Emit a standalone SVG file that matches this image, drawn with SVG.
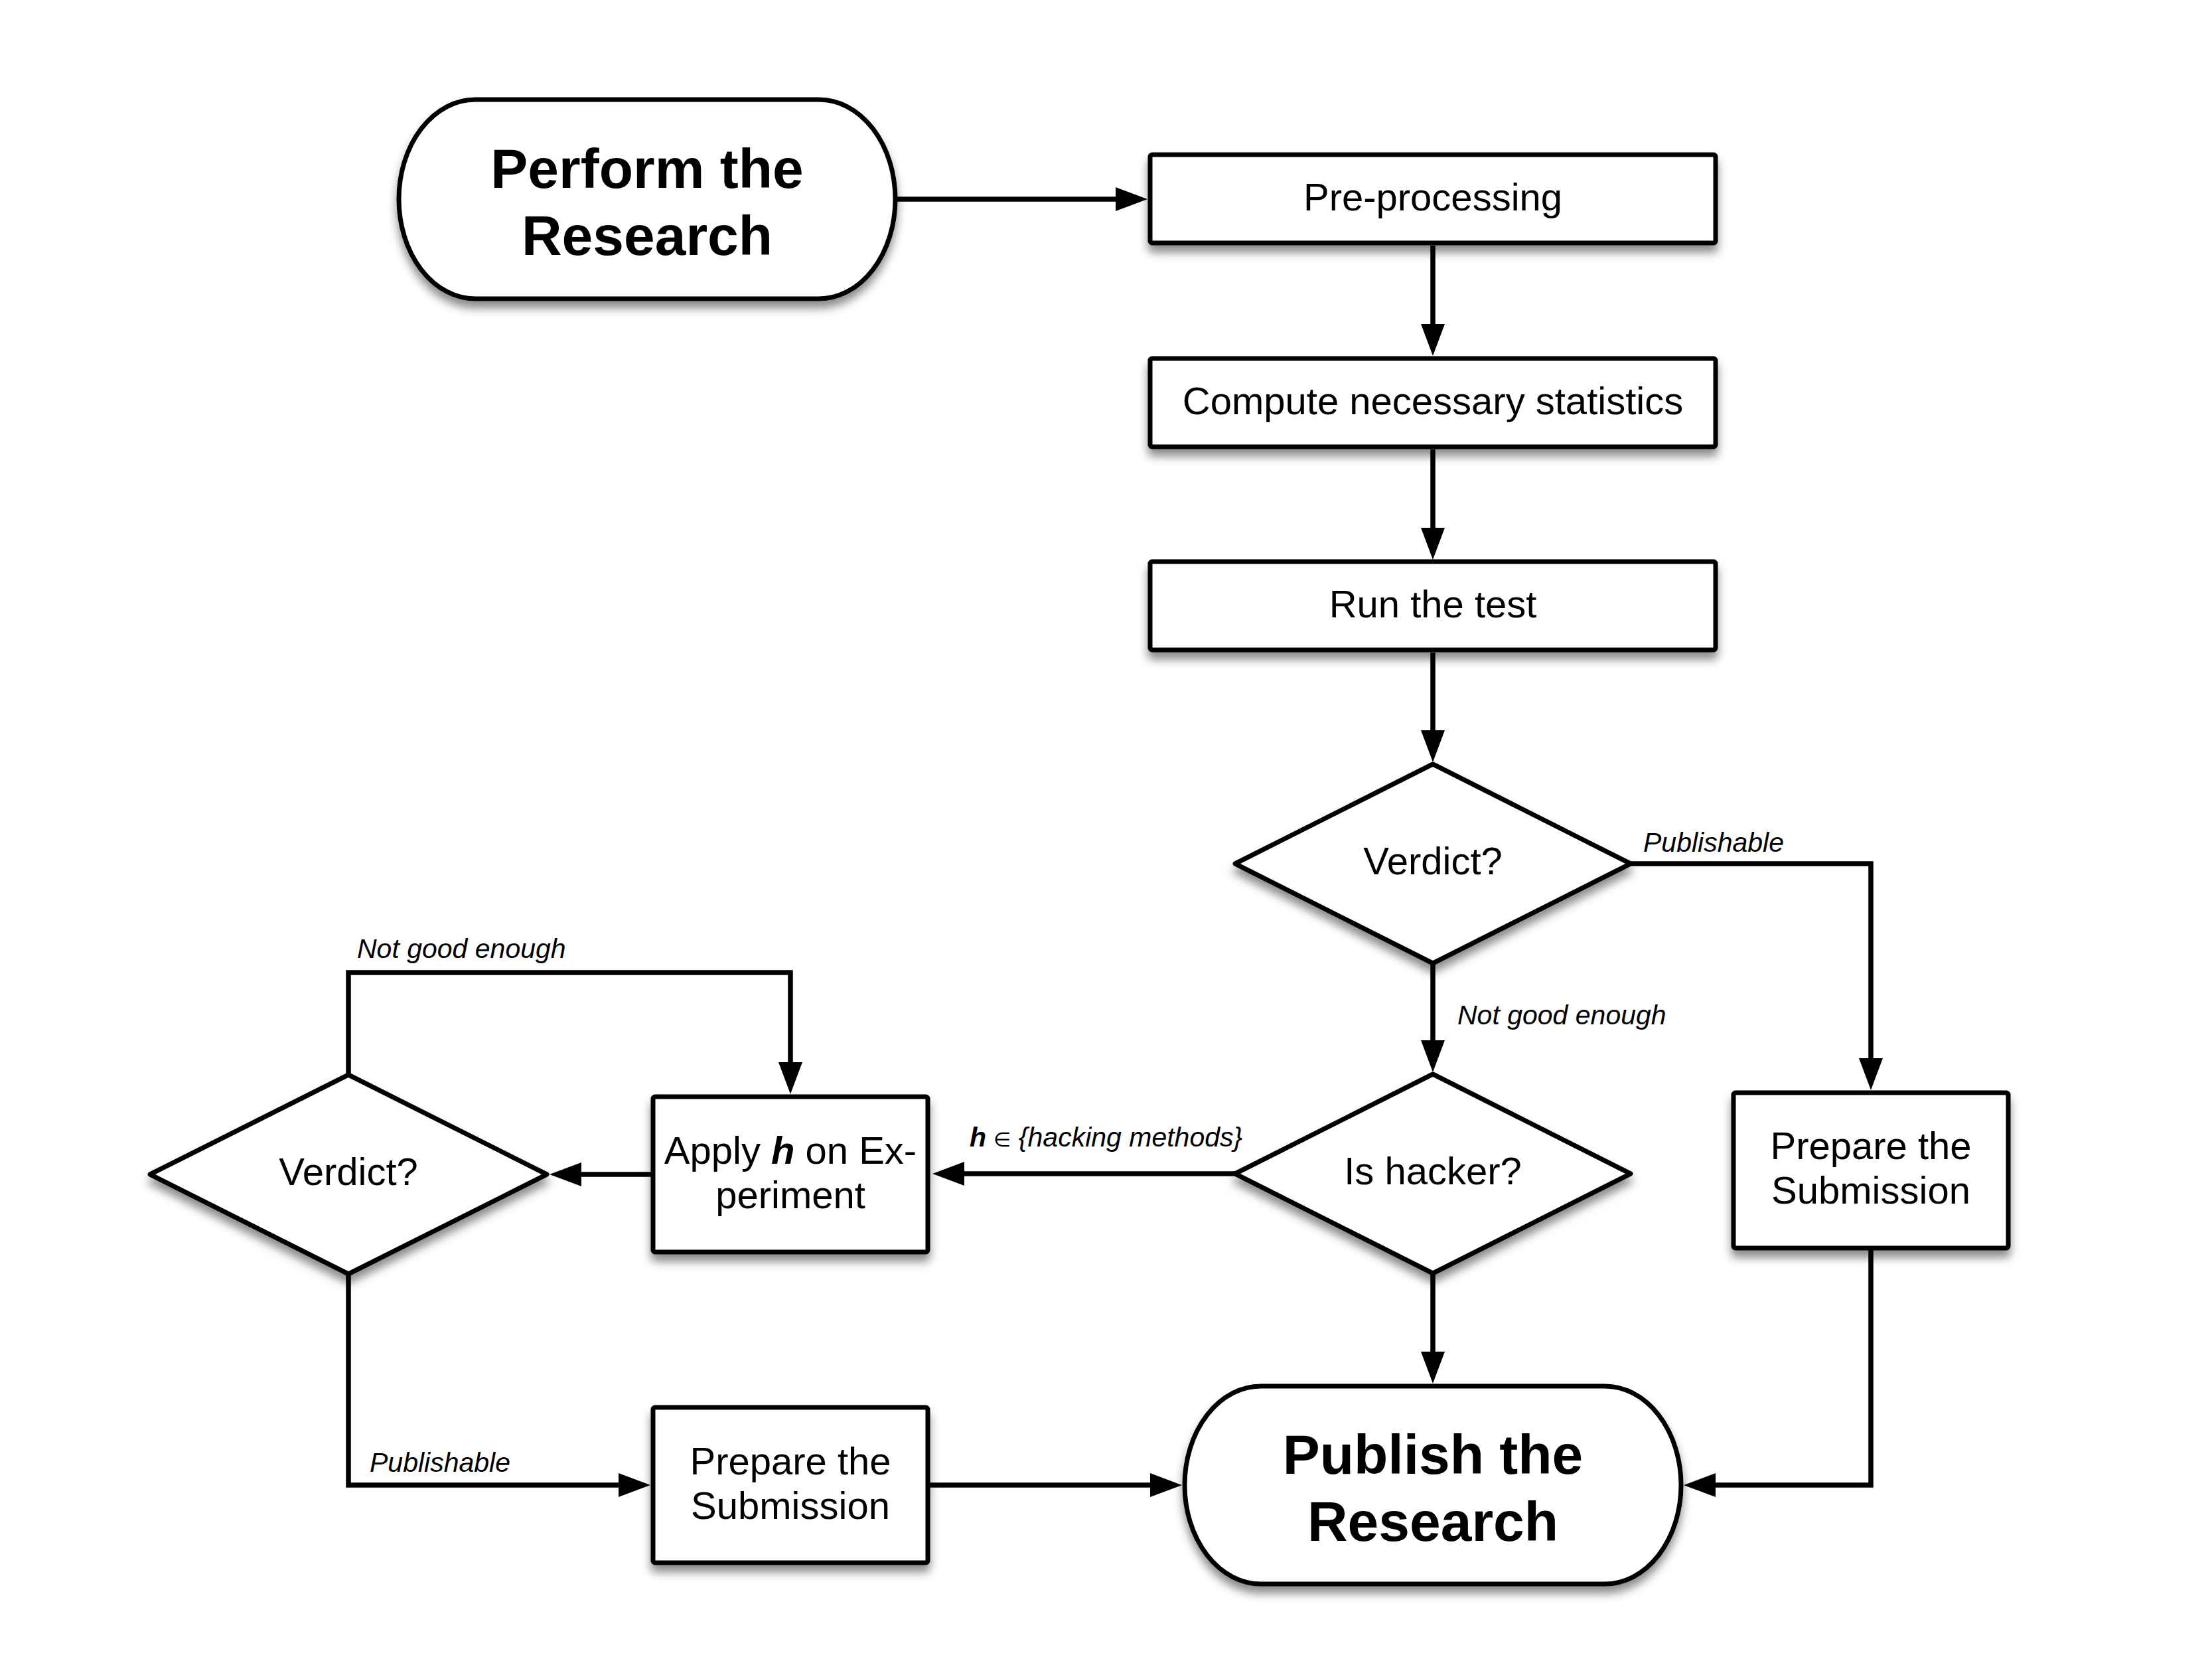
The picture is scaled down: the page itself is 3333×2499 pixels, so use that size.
<svg xmlns="http://www.w3.org/2000/svg" width="3333" height="2499" viewBox="0 0 3333 2499">
<defs>
<filter id="sh" x="-20%" y="-30%" width="140%" height="170%">
<feDropShadow dx="0" dy="11" stdDeviation="7" flood-color="#000" flood-opacity="0.45"/>
</filter>
<marker id="ah" markerUnits="userSpaceOnUse" markerWidth="48" markerHeight="36" refX="28" refY="18" orient="auto">
<path d="M0,0 L48,18 L0,36 Z" fill="#000"/>
</marker>
</defs>
<style>
.shape{fill:#fff;stroke:#000;stroke-width:7;stroke-linejoin:round;filter:url(#sh)}
.conn{fill:none;stroke:#000;stroke-width:7.5;stroke-linejoin:miter;marker-end:url(#ah)}
.title{font-family:"Liberation Sans",Arial,sans-serif;font-weight:bold;font-size:84px;text-anchor:middle;fill:#000}
.txt{font-family:"Liberation Sans",Arial,sans-serif;font-size:58px;text-anchor:middle;fill:#000}
.lbl{font-family:"Liberation Sans",Arial,sans-serif;font-style:italic;font-size:41px;fill:#000}
</style>
<rect width="3333" height="2499" fill="#fff"/>

<g id="connectors">
<path class="conn" d="M1350,300 H1709"/>
<path class="conn" d="M2159,370 V516"/>
<path class="conn" d="M2159,677 V823"/>
<path class="conn" d="M2159,983 V1128"/>
<path class="conn" d="M2457,1301 H2819 V1622"/>
<path class="conn" d="M2159,1451 V1595"/>
<path class="conn" d="M1861,1768 H1425"/>
<path class="conn" d="M984,1769 H848"/>
<path class="conn" d="M525,1619 V1465 H1191 V1628"/>
<path class="conn" d="M525,1919 V2237 H960"/>
<path class="conn" d="M1398,2237 H1761"/>
<path class="conn" d="M2159,1918 V2064"/>
<path class="conn" d="M2819,1880 V2237 H2557"/>
<text class="lbl" x="2476" y="1283">Publishable</text>
<text class="lbl" x="2196" y="1543">Not good enough</text>
<text class="lbl" x="1461" y="1727"><tspan font-weight="bold">h</tspan> <tspan font-style="normal" font-size="30">∈</tspan> {hacking methods}</text>
<text class="lbl" x="538" y="1443">Not good enough</text>
<text class="lbl" x="557" y="2217">Publishable</text>
</g>

<g id="perform">
<rect class="shape" x="601" y="150" width="748" height="300" rx="115" ry="150"/>
<text class="title" x="975" y="283">Perform the</text>
<text class="title" x="975" y="384">Research</text>
</g>

<g id="preprocessing">
<rect class="shape" x="1733" y="233" width="852" height="133" rx="3"/>
<text class="txt" x="2159" y="317">Pre-processing</text>
</g>

<g id="compute">
<rect class="shape" x="1733" y="540" width="852" height="133" rx="3"/>
<text class="txt" x="2159" y="624">Compute necessary statistics</text>
</g>

<g id="runtest">
<rect class="shape" x="1733" y="846" width="852" height="133" rx="3"/>
<text class="txt" x="2159" y="930">Run the test</text>
</g>

<g id="verdict1">
<polygon class="shape" points="2159,1151 2457,1301 2159,1451 1861,1301"/>
<text class="txt" x="2159" y="1317">Verdict?</text>
</g>

<g id="ishacker">
<polygon class="shape" points="2159,1618 2457,1768 2159,1918 1861,1768"/>
<text class="txt" x="2159" y="1784">Is hacker?</text>
</g>

<g id="prepare-right">
<rect class="shape" x="2612" y="1646" width="414" height="234" rx="3"/>
<text class="txt" x="2819" y="1746">Prepare the</text>
<text class="txt" x="2819" y="1813">Submission</text>
</g>

<g id="apply">
<rect class="shape" x="984" y="1652" width="414" height="234" rx="3"/>
<text class="txt" x="1191" y="1753">Apply <tspan font-weight="bold" font-style="italic">h</tspan> on Ex-</text>
<text class="txt" x="1191" y="1820">periment</text>
</g>

<g id="verdict2">
<polygon class="shape" points="525,1619 824,1769 525,1919 226,1769"/>
<text class="txt" x="525" y="1785">Verdict?</text>
</g>

<g id="prepare-left">
<rect class="shape" x="984" y="2120" width="414" height="234" rx="3"/>
<text class="txt" x="1191" y="2221">Prepare the</text>
<text class="txt" x="1191" y="2288">Submission</text>
</g>

<g id="publish">
<rect class="shape" x="1785" y="2088" width="748" height="298" rx="115" ry="149"/>
<text class="title" x="2159" y="2220">Publish the</text>
<text class="title" x="2159" y="2321">Research</text>
</g>
</svg>
